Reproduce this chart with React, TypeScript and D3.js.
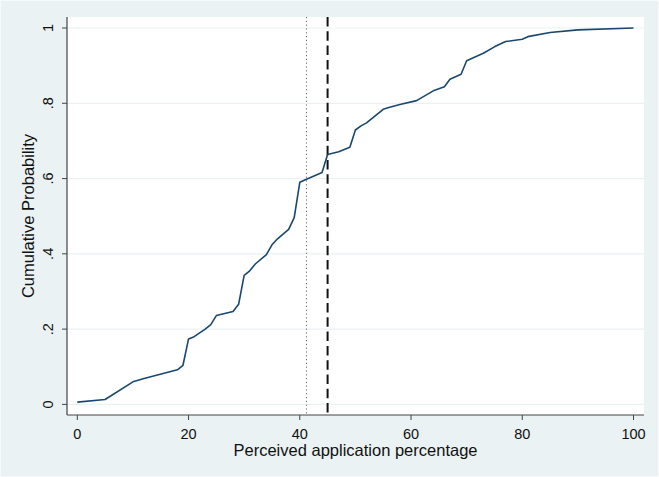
import React from "react";
import * as d3 from "d3";

const xValues = [0, 5, 10, 12, 18, 19, 20, 21, 23, 24, 25, 28, 29, 30, 31, 32, 34, 35, 36, 38, 39, 40, 41, 44, 45, 47, 49, 50, 51, 52, 55, 56, 58, 61, 64, 66, 67, 69, 70, 73, 75, 77, 80, 81, 85, 90, 100];
const yValues = [0.006, 0.013, 0.06, 0.069, 0.092, 0.104, 0.174, 0.18, 0.2, 0.212, 0.236, 0.247, 0.266, 0.343, 0.355, 0.373, 0.398, 0.424, 0.44, 0.465, 0.496, 0.59, 0.597, 0.616, 0.664, 0.671, 0.683, 0.729, 0.74, 0.748, 0.784, 0.789, 0.797, 0.807, 0.833, 0.844, 0.864, 0.877, 0.913, 0.933, 0.95, 0.964, 0.97, 0.977, 0.988, 0.995, 1.0];
const xTicks = [0, 20, 40, 60, 80, 100];
const yTicks = [0, 0.2, 0.4, 0.6, 0.8, 1];
const yTickLabels = ["0", ".2", ".4", ".6", ".8", "1"];
const meanLine = 41.2;
const medianLine = 45;

export default function App() {
  const W = 659, H = 477;
  const plot = { left: 67, right: 644, top: 17, bottom: 415 };
  const x = d3.scaleLinear().domain([0, 100]).range([77.3, 633.5]);
  const y = d3.scaleLinear().domain([0, 1]).range([404.4, 28]);
  const line = d3.line<number>().x((d, i) => x(xValues[i])).y((d) => y(d));
  const font = "'Liberation Sans', Arial, sans-serif";
  return (
    <svg width={W} height={H} style={{ position: "absolute", left: 0, top: 0 }}>
      <rect x={0} y={0} width={W} height={H} fill="#eaf2f3" />
      <rect x={0.5} y={0.5} width={W - 1} height={H - 1} fill="none" stroke="#f6fafa" strokeWidth={1} />
      <rect x={plot.left} y={plot.top} width={plot.right - plot.left} height={plot.bottom - plot.top} fill="#ffffff" />
      {yTicks.map((t) => (
        <line key={"g" + t} x1={plot.left} x2={plot.right} y1={y(t)} y2={y(t)} stroke="#eaf2f3" strokeWidth={1.2} />
      ))}
      <line x1={x(meanLine)} x2={x(meanLine)} y1={plot.top} y2={plot.bottom} stroke="#666" strokeWidth={1} strokeDasharray="1.2 2.6" />
      <line x1={x(medianLine)} x2={x(medianLine)} y1={plot.top} y2={plot.bottom} stroke="#111" strokeWidth={2} strokeDasharray="9.5 4.8" />
      <path d={line(yValues) || ""} fill="none" stroke="#1a476f" strokeWidth={1.6} strokeLinejoin="round" />
      <line x1={plot.left} x2={plot.left} y1={plot.top} y2={plot.bottom} stroke="#444" strokeWidth={1.2} />
      <line x1={plot.left} x2={plot.right} y1={plot.bottom} y2={plot.bottom} stroke="#444" strokeWidth={1.2} />
      {yTicks.map((t, i) => (
        <g key={"y" + t}>
          <line x1={plot.left - 5} x2={plot.left} y1={y(t)} y2={y(t)} stroke="#444" strokeWidth={1} />
          <text transform={`translate(${53},${y(t)}) rotate(-90)`} textAnchor="middle" fontFamily={font} fontSize={14.5} fill="#111">
            {yTickLabels[i]}
          </text>
        </g>
      ))}
      {xTicks.map((t) => (
        <g key={"x" + t}>
          <line x1={x(t)} x2={x(t)} y1={plot.bottom} y2={plot.bottom + 5} stroke="#444" strokeWidth={1} />
          <text x={x(t)} y={plot.bottom + 24} textAnchor="middle" fontFamily={font} fontSize={14.5} fill="#111">
            {t}
          </text>
        </g>
      ))}
      <text x={355.5} y={456} textAnchor="middle" fontFamily={font} fontSize={16.5} fill="#111">
        Perceived application percentage
      </text>
      <text transform={`translate(${34},${216}) rotate(-90)`} textAnchor="middle" fontFamily={font} fontSize={16.5} fill="#111">
        Cumulative Probability
      </text>
    </svg>
  );
}
